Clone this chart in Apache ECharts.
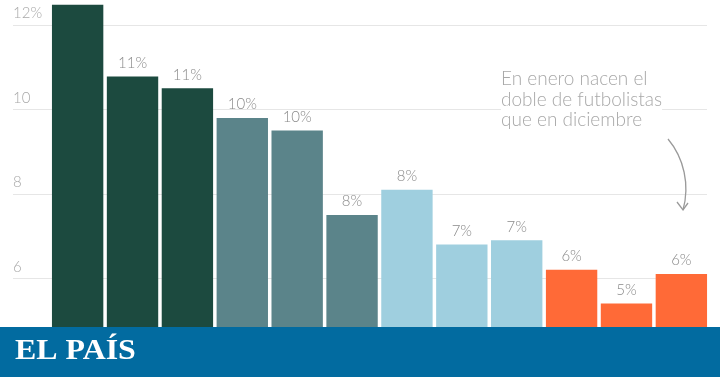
<!DOCTYPE html>
<html>
<head>
<meta charset="utf-8">
<script src="https://cdn.jsdelivr.net/npm/echarts@6/dist/echarts.min.js"></script>
<style>html,body{margin:0;padding:0;background:#fff}#c{width:720px;height:377px}</style>
</head>
<body>
<div id="c"></div>
<script>
const months = ['Ene','Feb','Mar','Abr','May','Jun','Jul','Ago','Sep','Oct','Nov','Dic'];
const values = [12.48, 10.78, 10.5, 9.8, 9.5, 7.5, 8.1, 6.8, 6.9, 6.2, 5.4, 6.1];
const barColors = ['#1c4a3f','#1c4a3f','#1c4a3f','#5b848a','#5b848a','#5b848a','#9fcfdf','#9fcfdf','#9fcfdf','#ff6a37','#ff6a37','#ff6a37'];
const tickValues = [6, 8, 10, 12];
const tickLabels = ['6', '8', '10', '12%'];
const noteLines = ['En enero nacen el', 'doble de futbolistas', 'que en diciembre'];
const brand = 'EL PAÍS';

const chart = echarts.init(document.getElementById('c'));
const yCommon = { type: 'value', min: 4, max: 14, interval: 2 };
const gridTop = -59.4, gridBottom = 14.3;
chart.setOption({
  animation: false,
  grid: [
    { left: 13, right: 13, top: gridTop, bottom: gridBottom, outerBoundsMode: 'none', containLabel: false },
    { left: 50.2, right: 11.2, top: gridTop, bottom: gridBottom, outerBoundsMode: 'none', containLabel: false }
  ],
  xAxis: [
    { type: 'category', gridIndex: 0, data: months, show: false },
    { type: 'category', gridIndex: 1, data: months, show: false }
  ],
  yAxis: [
    Object.assign({}, yCommon, {
      gridIndex: 0,
      axisLine: { show: false }, axisTick: { show: false },
      splitLine: { show: true, lineStyle: { color: '#e6e6e6', width: 1 } },
      axisLabel: {
        inside: true, margin: 0, verticalAlign: 'bottom', align: 'left',
        padding: [0, 0, 4, 0],
        color: '#a8a8a8', fontSize: 15, fontFamily: 'Lato', fontWeight: 300,
        formatter: function (v) { const i = tickValues.indexOf(v); return i >= 0 ? tickLabels[i] : ''; }
      }
    }),
    Object.assign({}, yCommon, { gridIndex: 1, show: false, splitLine: { show: false } })
  ],
  series: [{
    type: 'bar', xAxisIndex: 1, yAxisIndex: 1,
    data: values.map((v, i) => ({ value: v, itemStyle: { color: barColors[i] } })),
    barCategoryGap: '6.4%',
    label: {
      show: true, position: 'top', distance: 6,
      color: '#8a8a8a', fontSize: 15, fontFamily: 'Lato', fontWeight: 300,
      formatter: p => Math.round(p.value) + '%'
    },
    z: 5
  }],
  graphic: [
    { type: 'text', z: 100, left: 501, top: 69,
      style: { text: noteLines.join('\n'), fill: '#a8a8a8', font: '300 19px Lato', lineHeight: 20.5,
               backgroundColor: '#fff' } },
    { type: 'bezierCurve', z: 100,
      shape: { x1: 668, y1: 139, cpx1: 684, cpy1: 158, cpx2: 690, cpy2: 185, x2: 683, y2: 210 },
      style: { stroke: '#9a9a9a', lineWidth: 1.3, fill: null } },
    { type: 'polyline', z: 100,
      shape: { points: [[677, 202], [683, 210], [688, 203]] },
      style: { stroke: '#9a9a9a', lineWidth: 1.3, fill: null } },
    { type: 'rect', z: 110, shape: { x: 0, y: 327, width: 720, height: 50 }, style: { fill: '#026ba0' } },
    { type: 'text', z: 111, x: 15, y: 337, scaleX: 1.1, originX: 0, originY: 0,
      style: { text: brand, fill: '#fff', font: 'bold 29px "Liberation Serif"' } }
  ]
});
</script>
</body>
</html>
